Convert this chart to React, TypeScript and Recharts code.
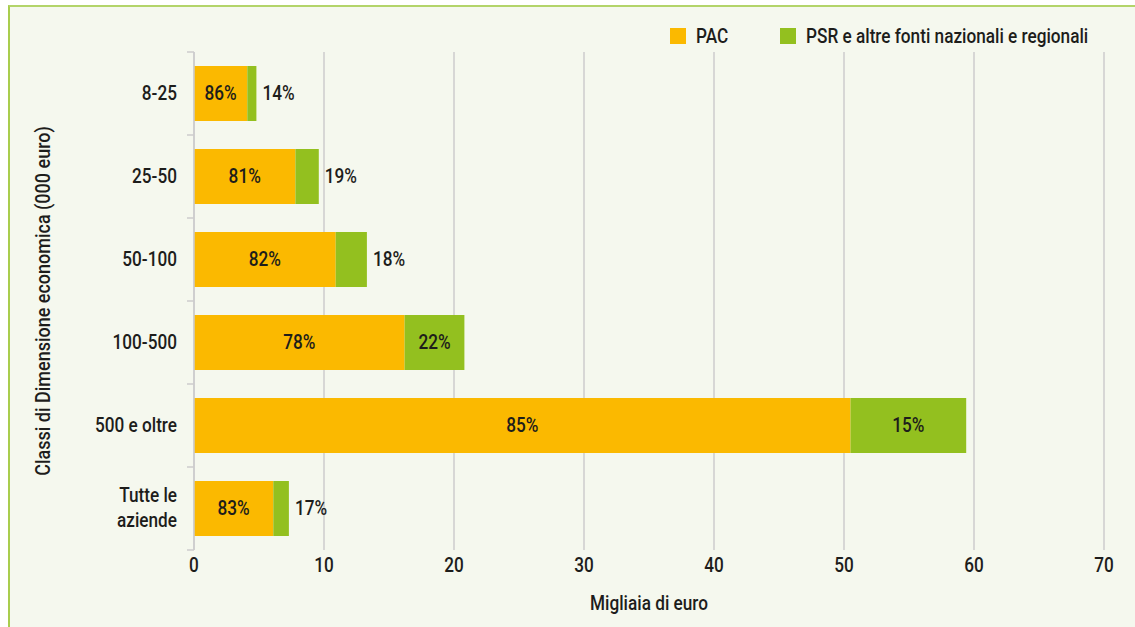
import React from 'react';
import { BarChart, Bar, XAxis, YAxis, CartesianGrid, Legend, LabelList } from 'recharts';

const categories = ['8-25', '25-50', '50-100', '100-500', '500 e oltre', 'Tutte le\naziende'];
const pacValues = [4.1, 7.8, 10.9, 16.2, 50.5, 6.1];
const psrValues = [0.7, 1.8, 2.4, 4.6, 8.9, 1.2];
const pacShares = ['86%', '81%', '82%', '78%', '85%', '83%'];
const psrShares = ['14%', '19%', '18%', '22%', '15%', '17%'];
const xTicks = [0, 10, 20, 30, 40, 50, 60, 70];
const seriesNames = ['PAC', 'PSR e altre fonti nazionali e regionali'];
const xTitle = 'Migliaia di euro';
const yTitle = 'Classi di Dimensione economica (000 euro)';

const data = categories.map((c, i) => ({
  cat: c,
  pac: pacValues[i],
  psr: psrValues[i],
  pacLabel: pacShares[i],
  psrLabel: psrShares[i],
}));

const FONT = "Roboto, 'Liberation Sans', sans-serif";
const FS = 20;
const FW = 500;
const SX = 0.86;
const TEXT = '#1d1d1b';
const ORANGE = '#FBB900';
const GREEN = '#93C01F';
const GRID = '#cccccc';
const BG = '#F5F8EE';

const W = 1135;
const H = 627;
const M = { top: 52, right: 31, left: 0, bottom: 17 };
const X_AXIS_H = 60;
const Y_AXIS_W = 194;
const PLOT_H = H - M.top - M.bottom - X_AXIS_H;
const BAND = PLOT_H / categories.length;

const CText = ({ x, y, anchor = 'middle', rotate = 0, sx = SX, children }: any) => (
  <text
    transform={`translate(${x},${y}) rotate(${rotate}) scale(${sx},1)`}
    x={0}
    y={0}
    textAnchor={anchor}
    dominantBaseline="central"
    fill={TEXT}
    fontSize={FS}
    fontWeight={FW}
    fontFamily={FONT}
  >
    {children}
  </text>
);

const YTick = (props: any) => {
  const y = Number(props.y);
  const idx = props.index;
  const lines = String(props.payload.value).split('\n');
  const axisX = Y_AXIS_W;
  const lh = 25;
  const startY = y - ((lines.length - 1) * lh) / 2;
  return (
    <g>
      <line x1={axisX - 7} x2={axisX} y1={y - BAND / 2} y2={y - BAND / 2} stroke={GRID} strokeWidth={1.5} />
      {idx === categories.length - 1 && (
        <line x1={axisX - 7} x2={axisX} y1={y + BAND / 2} y2={y + BAND / 2} stroke={GRID} strokeWidth={1.5} />
      )}
      {lines.map((l, i) => (
        <CText key={i} x={axisX - 17} y={startY + i * lh} anchor="end">
          {l}
        </CText>
      ))}
    </g>
  );
};

const XTick = (props: any) => {
  const x = Number(props.x);
  const y = Number(props.y);
  return <CText x={x} y={y + 8}>{props.payload.value}</CText>;
};

const PacLabel = (props: any) => {
  const x = Number(props.x), y = Number(props.y), w = Number(props.width), h = Number(props.height);
  return <CText x={x + w / 2} y={y + h / 2}>{props.value}</CText>;
};

const PsrLabel = (props: any) => {
  const x = Number(props.x), y = Number(props.y), w = Number(props.width), h = Number(props.height);
  const inside = w > 40;
  return (
    <CText x={inside ? x + w / 2 : x + w + 6} y={y + h / 2} anchor={inside ? 'middle' : 'start'}>
      {props.value}
    </CText>
  );
};

const LegendContent = () => {
  const colors = [ORANGE, GREEN];
  const offsets = [0, 110];
  return (
    <div style={{ position: 'relative', width: 440, height: 18, fontFamily: FONT, fontSize: FS, fontWeight: FW, color: TEXT, whiteSpace: 'nowrap' }}>
      {seriesNames.map((n, i) => (
        <div key={n} style={{ position: 'absolute', left: offsets[i], top: 0, height: 16 }}>
          <span style={{ position: 'absolute', left: 0, top: 0, width: 16, height: 16, background: colors[i] }} />
          <span
            style={{
              position: 'absolute',
              left: 26,
              top: -4,
              lineHeight: '24px',
              transform: `scaleX(${SX})`,
              transformOrigin: 'left center',
            }}
          >
            {n}
          </span>
        </div>
      ))}
    </div>
  );
};

const YTitle = (props: any) => {
  const vb = props.viewBox || {};
  const cx = Number(vb.x || 0) + 43;
  const cy = Number(vb.y || 0) + Number(vb.height || 0) / 2;
  return <CText x={cx} y={cy} rotate={-90} sx={0.9}>{yTitle}</CText>;
};

const XTitle = (props: any) => {
  const vb = props.viewBox || {};
  const cx = Number(vb.x || 0) + Number(vb.width || 0) / 2;
  const cy = Number(vb.y || 0) + 54;
  return <CText x={cx} y={cy}>{xTitle}</CText>;
};

export default function App() {
  return (
    <div style={{ position: 'absolute', left: 0, top: 0, width: W, height: H, overflow: 'hidden', background: '#ffffff' }}>
      <div
        style={{
          position: 'absolute',
          left: 8,
          top: 5,
          width: W,
          height: H,
          background: BG,
          borderTop: '2px solid #B3D46A',
          borderLeft: '2px solid #A9CD4E',
        }}
      />
      <div style={{ position: 'absolute', left: 0, top: 0 }}>
        <BarChart width={W} height={H} data={data} layout="vertical" margin={M} barSize={55}>
          <CartesianGrid horizontal={false} vertical={true} stroke={GRID} strokeWidth={1.5} />
          <XAxis
            type="number"
            domain={[0, 70]}
            ticks={xTicks}
            axisLine={false}
            tickLine={false}
            height={X_AXIS_H}
            tick={<XTick />}
            label={<XTitle />}
          />
          <YAxis
            type="category"
            dataKey="cat"
            width={Y_AXIS_W}
            axisLine={{ stroke: GRID, strokeWidth: 1.5 }}
            tickLine={false}
            tick={<YTick />}
            interval={0}
            label={<YTitle />}
          />
          <Legend
            verticalAlign="middle"
            align="center"
            content={<LegendContent />}
            wrapperStyle={{ top: 28, left: 670, width: 440, height: 18 }}
          />
          <Bar dataKey="pac" name={seriesNames[0]} stackId="a" fill={ORANGE} isAnimationActive={false}>
            <LabelList dataKey="pacLabel" content={<PacLabel />} />
          </Bar>
          <Bar dataKey="psr" name={seriesNames[1]} stackId="a" fill={GREEN} isAnimationActive={false}>
            <LabelList dataKey="psrLabel" content={<PsrLabel />} />
          </Bar>
        </BarChart>
      </div>
    </div>
  );
}
